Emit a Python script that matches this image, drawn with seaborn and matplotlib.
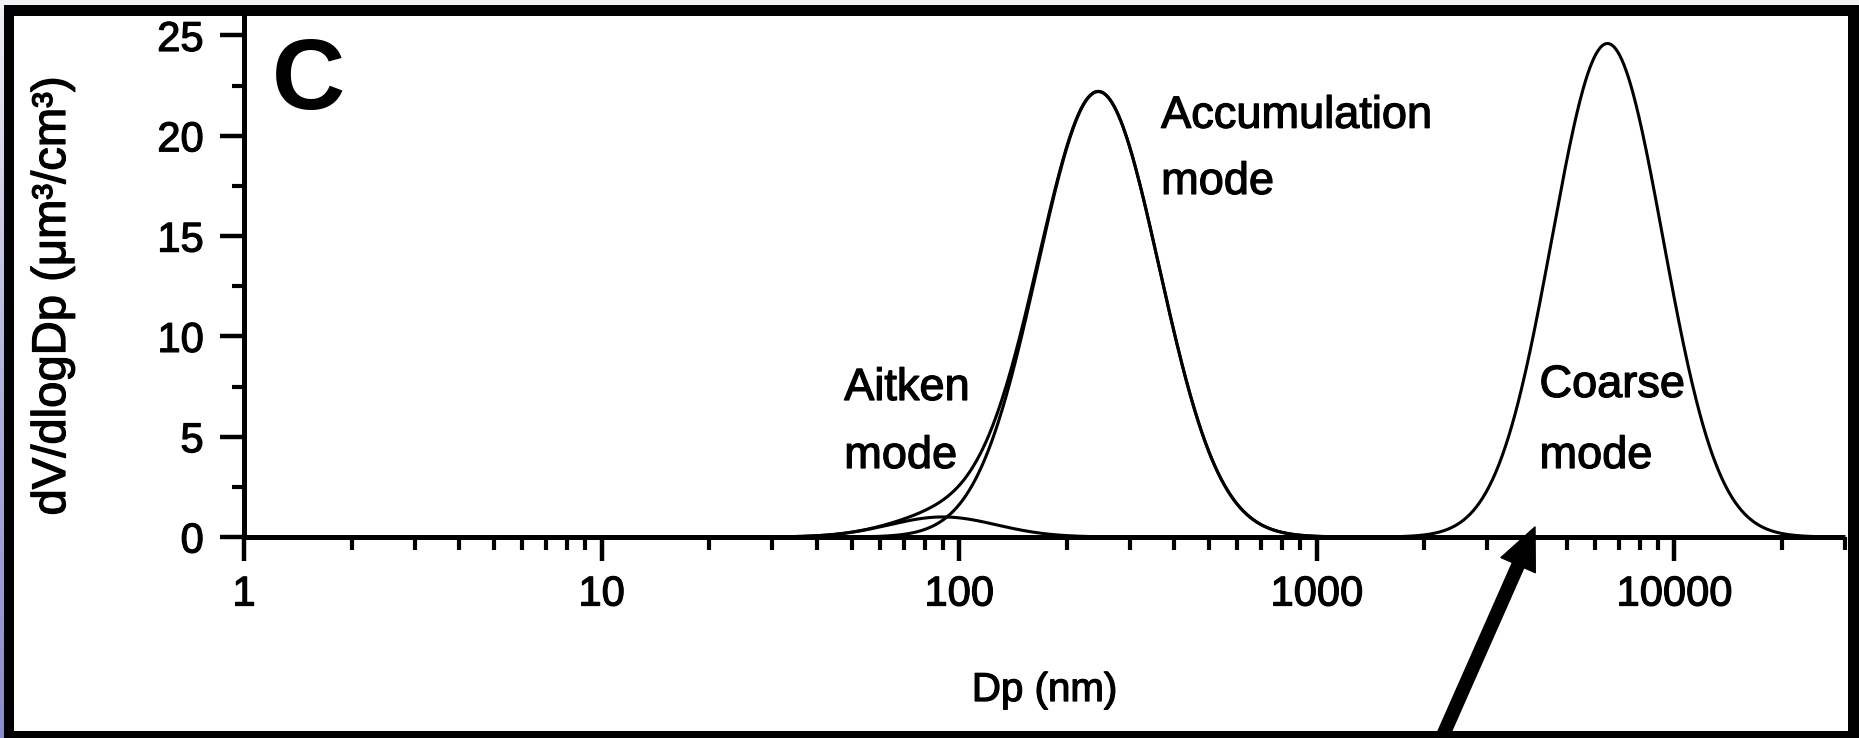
import numpy as np
import pandas as pd
import matplotlib
matplotlib.use("Agg")
import matplotlib.pyplot as plt
import seaborn as sns
from matplotlib import ticker, patheffects
from matplotlib.patches import Rectangle

# Lognormal volume modes: median diameter (nm), peak dV/dlogDp, log10 geometric std
mode_names = ["Aitken", "Accumulation", "Coarse"]
mode_median_nm = [90.0, 245.0, 6500.0]
mode_peak = [1.0, 22.2, 24.6]
mode_log_sigma = [0.15, 0.17, 0.155]

x_ticks = [1, 10, 100, 1000, 10000]
x_tick_labels = ["1", "10", "100", "1000", "10000"]
y_ticks = [0, 5, 10, 15, 20, 25]
x_label = "Dp (nm)"
y_label = "dV/dlogDp (μm³/cm³)"
panel_letter = "C"
mode_labels = [["Aitken", "mode"], ["Accumulation", "mode"], ["Coarse", "mode"]]

sns.set_style("ticks")
plt.rcParams["font.family"] = ["Liberation Sans", "DejaVu Sans"]
for key in ["text.color", "axes.labelcolor", "xtick.color", "ytick.color", "axes.edgecolor"]:
    plt.rcParams[key] = "black"

W, H, DPI = 1859, 738, 100
fig = plt.figure(figsize=(W / DPI, H / DPI), dpi=DPI, facecolor="#f1f1f5")

# scanned-page frame: bluish left edge, thick black border, white panel
edge = fig.add_axes([0, 0, 4 / W, 1], zorder=-5)
grad = np.linspace(0, 1, 256).reshape(-1, 1)
cmap = matplotlib.colors.LinearSegmentedColormap.from_list("edge", ["#efeff4", "#b4b4e0", "#8a8acf"])
edge.imshow(grad, aspect="auto", cmap=cmap, extent=[0, 1, 0, 1], origin="upper")
edge.set_axis_off()
fig.patches.append(Rectangle((4 / W, 0), 1 - 4 / W, (H - 5) / H, transform=fig.transFigure,
                             facecolor="black", edgecolor="none", zorder=-3))
fig.patches.append(Rectangle((14 / W, 7 / H), (1848 - 14) / W, (H - 16 - 7) / H,
                             transform=fig.transFigure, facecolor="white", edgecolor="none", zorder=-2))

ax = fig.add_axes([244 / W, 201 / H, (1845 - 244) / W, 0.70677])
ax.set_facecolor("none")

# size distributions on a log-spaced diameter grid
dp = np.logspace(0, np.log10(30000), 1500)
logdp = np.log10(dp)
modes = {}
for name, dg, pk, s in zip(mode_names, mode_median_nm, mode_peak, mode_log_sigma):
    modes[name] = pk * np.exp(-0.5 * ((logdp - np.log10(dg)) / s) ** 2)
total = sum(modes.values())

frames = [pd.DataFrame({"Dp": dp, "dV": total, "curve": "Total"})]
for name in ["Aitken", "Accumulation"]:
    frames.append(pd.DataFrame({"Dp": dp, "dV": modes[name], "curve": name}))
df = pd.concat(frames, ignore_index=True)

sns.lineplot(data=df, x="Dp", y="dV", units="curve", estimator=None, color="black",
             linewidth=2.2, ax=ax, legend=False)

ax.set_xscale("log")
ax.set_xlim(1, 30000)
ax.set_ylim(0, 26)
ax.set_xticks(x_ticks)
ax.set_xticklabels(x_tick_labels)
ax.xaxis.set_minor_locator(ticker.LogLocator(base=10, subs=np.arange(2, 10)))
ax.xaxis.set_minor_formatter(ticker.NullFormatter())
ax.set_yticks(y_ticks)
ax.yaxis.set_minor_locator(ticker.MultipleLocator(2.5))

for side in ["top", "right"]:
    ax.spines[side].set_visible(False)
for side in ["left", "bottom"]:
    ax.spines[side].set_linewidth(3.6)
    ax.spines[side].set_capstyle("butt")

tick_size = 30
ax.tick_params(axis="both", which="major", direction="out", length=17, width=3.2,
               colors="black", labelsize=tick_size)
ax.tick_params(axis="both", which="minor", direction="out", length=9, width=3.0, colors="black")
ax.tick_params(axis="x", which="major", pad=10)
ax.tick_params(axis="y", which="major", pad=12)

heavy = [patheffects.withStroke(linewidth=0.9, foreground="black")]
for lab in ax.get_xticklabels() + ax.get_yticklabels():
    lab.set_path_effects(heavy)

ax.set_xlabel(x_label, fontsize=29, path_effects=heavy)
ax.xaxis.set_label_coords(0.5, -(690 - 537) / 521.6)
ax.xaxis.label.set_va("center")
ax.set_ylabel(y_label, fontsize=34, path_effects=heavy)
ax.yaxis.set_label_coords((53 - 244) / 1601, (537 - 296) / 521.6)
ax.yaxis.label.set_va("center")

# panel letter
ax.text((272 - 244) / 1601, (537 - 109) / 521.6, panel_letter, transform=ax.transAxes,
        fontsize=73, fontweight="bold", ha="left", va="baseline")

# mode labels (left edge in nm, baseline of first and second line in data units)
label_pos = [(47.7, 6.83, 3.44), (367.0, 20.4, 17.1), (4195.0, 6.98, 3.44)]
for lines, (xd, y1, y2) in zip(mode_labels, label_pos):
    for txt, yb in zip(lines, (y1, y2)):
        ax.text(xd, yb, txt, fontsize=32.5, ha="left", va="baseline", path_effects=heavy)

# pointer arrow rising from below the panel toward the axis
ax.annotate("", xy=(1535, H - 527), xytext=(1440, -4), xycoords="figure pixels",
            textcoords="figure pixels", annotation_clip=False,
            arrowprops=dict(facecolor="black", edgecolor="black", width=9,
                            headwidth=27, headlength=30, shrink=0))

fig.savefig("out.png", dpi=DPI, facecolor=fig.get_facecolor())
